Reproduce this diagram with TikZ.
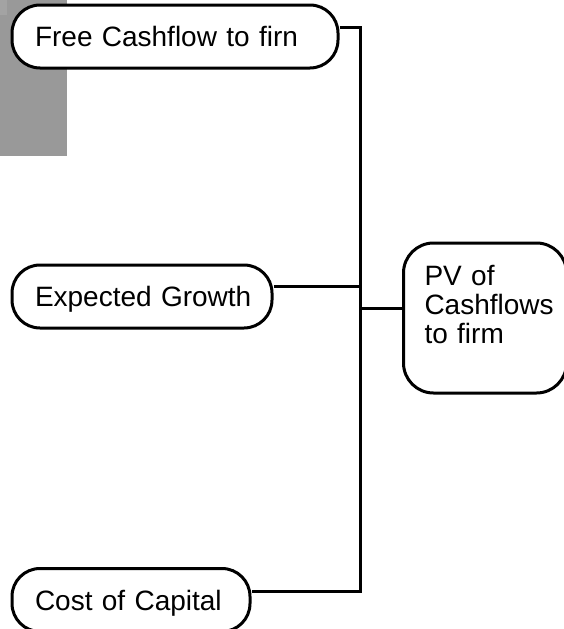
\documentclass[tikz,border=0pt]{standalone}
\usepackage{fontspec}
\setmainfont{Liberation Sans}
\definecolor{panelgray}{RGB}{153,153,153}
\definecolor{panellight}{RGB}{163,163,163}
\tikzset{
  wire/.style={line width=3pt},
  pill/.style={draw, fill=white, line width=3pt, rounded corners=28pt, minimum height=63pt,
    inner xsep=23pt, inner ysep=0pt, align=left, text height=20pt, text depth=0pt,
    font=\fontsize{28}{29}\selectfont},
  pvbox/.style={draw, fill=white, line width=3pt, rounded corners=30pt, inner xsep=21pt,
    inner ysep=4pt, align=left, text width=121pt, text height=38pt, text depth=104pt,
    font=\fontsize{28}{29}\selectfont}
}
\begin{document}
\begin{tikzpicture}[x=1pt,y=-1pt]
\useasboundingbox (0,0) rectangle (564,629);

% grey panel behind the top-left corner
\fill[panelgray] (0,0) rectangle (67,156);
\fill[panellight] (0,0) rectangle (7,15);

% input boxes
\node[pill, text width=280pt] (fcf) at (175,36.5) {\mbox{Free Cashflow to firn}};
\node[pill, text width=214pt] (eg) at (142,296.5) {\mbox{Expected Growth}};
\node[pill, text width=192pt] (coc) at (131,600) {\mbox{Cost of Capital}};

% result box
\node[pvbox] (pv) at (485,318) {\mbox{PV of}\\\mbox{Cashflows}\\\mbox{to firm}};

% spine joining the inputs to the result
\coordinate (top) at (360,27);
\coordinate (bot) at (360,591);
\coordinate (mid) at (360,286);
\coordinate (pvin) at (360,308);
\draw[wire] (fcf.east |- top) -- (top) -- (bot) -- (coc.east |- bot);
\draw[wire] (eg.east |- mid) -- (mid);
\draw[wire] (pvin) -- (pv.west |- pvin);
\end{tikzpicture}
\end{document}
